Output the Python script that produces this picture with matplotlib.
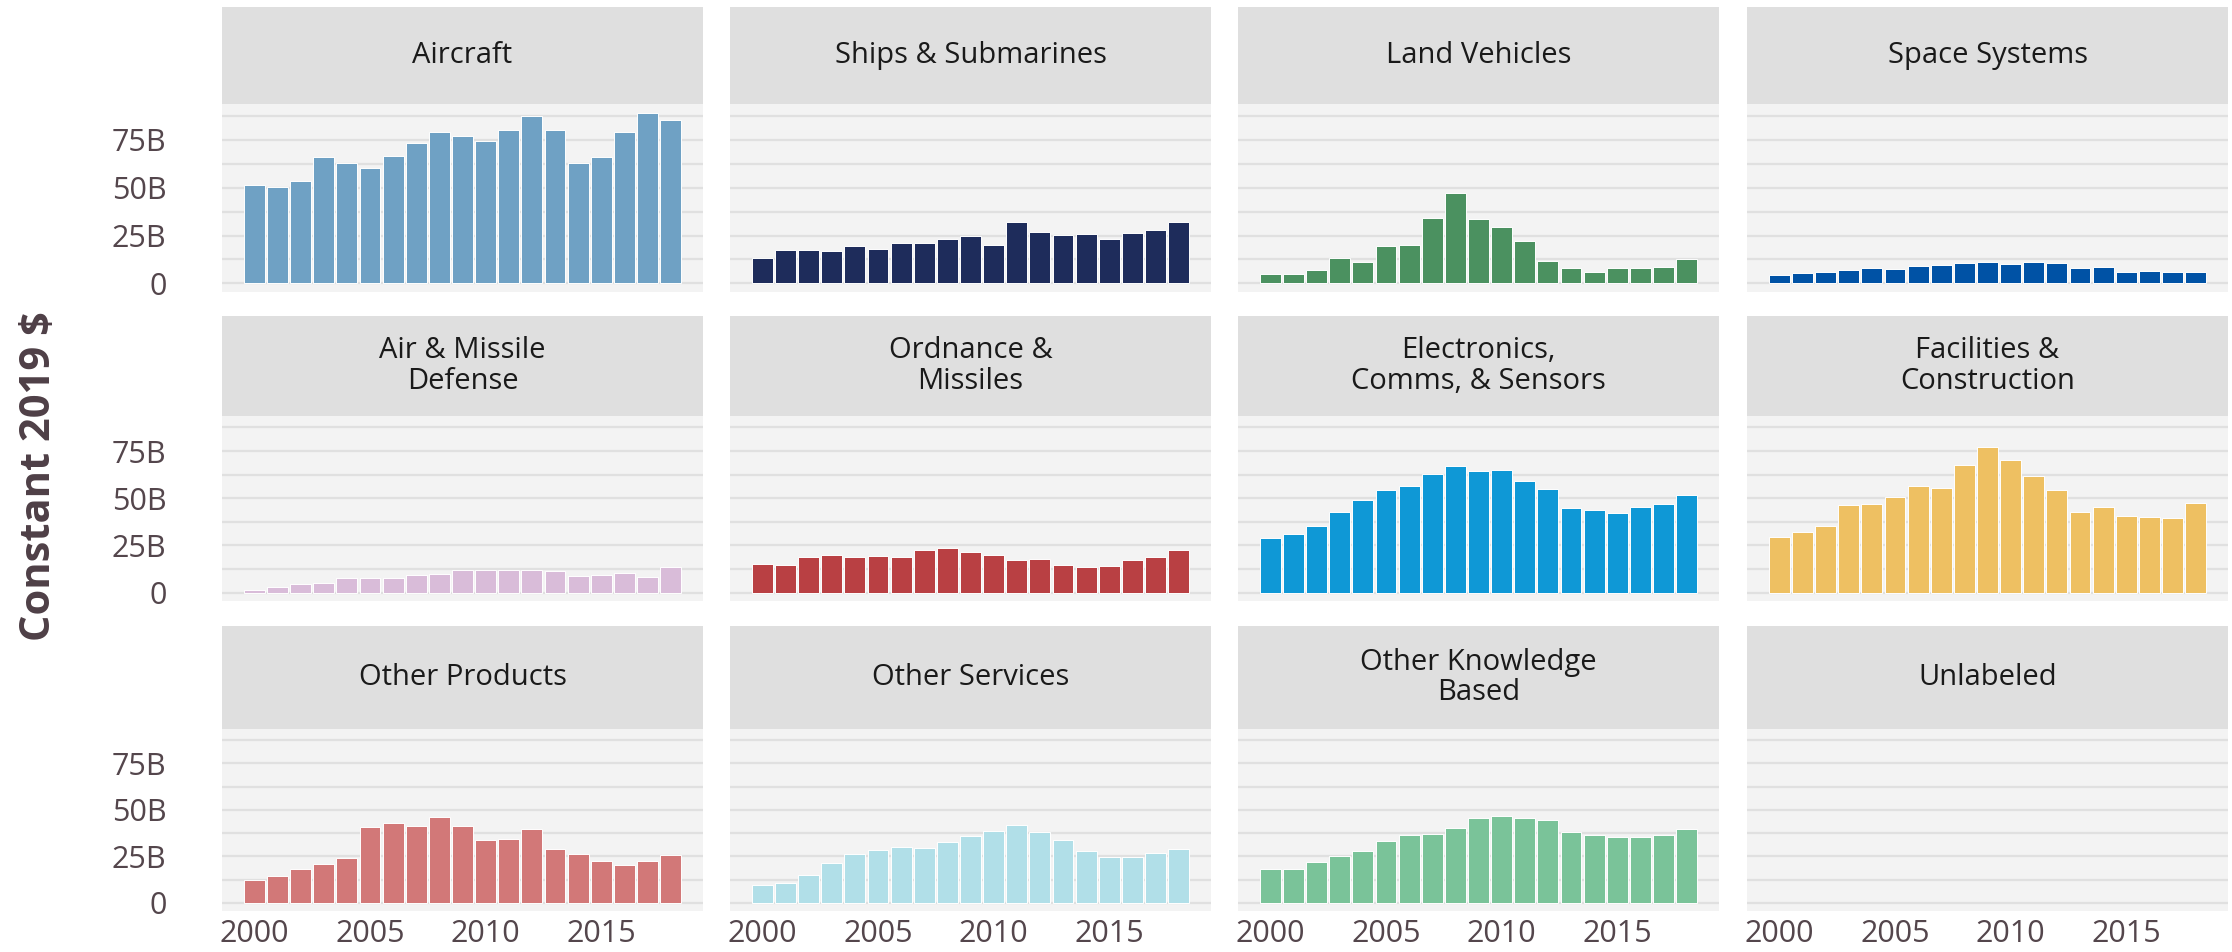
import numpy as np
import matplotlib
matplotlib.use("Agg")
import matplotlib.pyplot as plt

plt.rcParams['font.family'] = ['Open Sans', 'DejaVu Sans']

years = list(range(2000, 2019))

categories = [
    "Aircraft", "Ships & Submarines", "Land Vehicles", "Space Systems",
    "Air & Missile\nDefense", "Ordnance &\nMissiles", "Electronics,\nComms, & Sensors", "Facilities &\nConstruction",
    "Other Products", "Other Services", "Other Knowledge\nBased", "Unlabeled",
]

colors = [
    "#6fa1c4", "#1e2c5b", "#4b9160", "#0052a5",
    "#d9bcd9", "#b94043", "#0f98d6", "#eec062",
    "#d27878", "#b1dfe8", "#7ac399", "#cccccc",
]

# values in billions, constant 2019 $
aircraft = [51.3, 50.2, 53.6, 65.9, 63.0, 60.4, 66.6, 73.4, 79.1, 77.1, 74.1, 79.8, 87.5, 80.2, 62.7, 65.7, 79.1, 89.1, 85.0]
ships = [13.4, 17.5, 17.5, 17.1, 19.5, 17.9, 21.1, 21.1, 23.0, 25.0, 20.2, 32.1, 26.8, 25.4, 25.7, 23.0, 26.3, 28.0, 32.0]
land = [4.8, 4.8, 7.0, 13.4, 11.1, 19.5, 19.8, 33.9, 47.0, 33.6, 29.3, 22.0, 11.8, 8.2, 6.1, 7.9, 7.9, 8.6, 12.7]
space = [4.5, 5.5, 6.1, 7.0, 7.9, 7.5, 9.3, 9.6, 10.7, 11.4, 10.2, 11.4, 10.7, 8.2, 8.6, 6.2, 6.6, 6.2, 6.2]
air_missile = [1.3, 2.7, 4.5, 5.2, 7.5, 7.9, 7.9, 9.5, 10.0, 12.1, 12.1, 12.1, 12.1, 11.6, 8.9, 9.5, 10.2, 8.4, 13.4]
ordnance = [15.4, 14.8, 18.6, 19.8, 18.9, 19.3, 18.9, 22.3, 23.4, 21.4, 19.8, 17.5, 17.9, 14.5, 13.8, 14.1, 17.5, 18.9, 22.3]
electronics = [29.1, 31.3, 35.2, 42.9, 49.1, 54.1, 56.6, 62.9, 67.1, 64.5, 64.8, 59.3, 54.8, 45.0, 43.6, 42.0, 45.2, 47.0, 51.8]
facilities = [29.5, 32.3, 35.5, 46.6, 46.8, 50.4, 56.3, 55.4, 67.7, 77.1, 70.5, 61.6, 54.1, 42.9, 45.2, 40.4, 40.0, 39.5, 47.3]
other_products = [12.5, 14.5, 18.4, 20.9, 24.1, 40.7, 42.9, 41.4, 46.3, 41.4, 33.9, 34.3, 39.8, 29.1, 26.1, 22.3, 20.2, 22.3, 25.7]
other_services = [9.3, 10.4, 14.8, 21.6, 26.4, 28.4, 30.2, 29.5, 32.7, 35.9, 38.4, 42.0, 38.0, 33.9, 27.9, 24.6, 24.8, 27.0, 29.1]
other_knowledge = [18.2, 17.9, 22.0, 25.4, 27.9, 33.4, 36.4, 37.1, 40.4, 45.4, 46.6, 45.4, 44.8, 37.9, 36.4, 35.5, 35.2, 36.4, 39.8]
unlabeled = []

series = [aircraft, ships, land, space, air_missile, ordnance, electronics, facilities,
          other_products, other_services, other_knowledge, unlabeled]

y_ticks = [0, 25, 50, 75]
y_tick_labels = ["0", "25B", "50B", "75B"]
x_ticks = [2000, 2005, 2010, 2015]

W, H = 2232, 952
fig = plt.figure(figsize=(W / 100, H / 100), dpi=100)

col_left = [222, 730, 1238, 1747]
col_w = 481
# (strip top, strip bottom, panel bottom) in pixels from top
rows = [(7, 104, 292), (316, 416, 601), (626, 729, 911)]

tick_col = "#54464c"
ymax = max(max(s) for s in series if s)
ylim = (-0.05 * ymax, ymax * 1.05)

for i, (name, col, vals) in enumerate(zip(categories, colors, series)):
    r, c = divmod(i, 4)
    st, sb, pb = rows[r]
    x0 = col_left[c] / W
    ax = fig.add_axes([x0, 1 - pb / H, col_w / W, (pb - sb) / H])
    sx = fig.add_axes([x0, 1 - sb / H, col_w / W, (sb - st) / H])

    ax.set_facecolor("#f3f3f3")
    ax.set_yticks(y_ticks)
    ax.set_yticks([12.5, 37.5, 62.5, 87.5], minor=True)
    ax.grid(axis='y', which='both', color="#e0e0e0", linewidth=1.6)
    ax.set_axisbelow(True)
    if vals:
        ax.bar(years, vals, width=0.9, color=col, edgecolor="#ffffff", linewidth=0.7)
    ax.set_xlim(1998.6, 2019.4)
    ax.set_ylim(*ylim)
    for sp in ax.spines.values():
        sp.set_visible(False)
    ax.tick_params(which='both', length=0, labelsize=22, labelcolor=tick_col)
    ax.set_xticks(x_ticks)
    if c == 0:
        ax.set_yticklabels(y_tick_labels)
    else:
        ax.set_yticklabels([])
    if r == 2:
        ax.set_xticklabels([str(x) for x in x_ticks])
    else:
        ax.set_xticklabels([])
    ax.tick_params(axis='y', pad=40)
    ax.tick_params(axis='x', pad=6)

    sx.set_facecolor("#dfdfdf")
    sx.set_xticks([])
    sx.set_yticks([])
    for sp in sx.spines.values():
        sp.set_visible(False)
    sx.text(0.5, 0.5, name, ha='center', va='center', fontsize=21,
            color="#1a1a1a", linespacing=1.05, transform=sx.transAxes)

fig.text(40 / W, 0.5, "Constant 2019 $", rotation=90, ha='center', va='center',
         fontsize=30, fontweight='bold', color="#4e3f46")

fig.savefig("out.png", dpi=100)
